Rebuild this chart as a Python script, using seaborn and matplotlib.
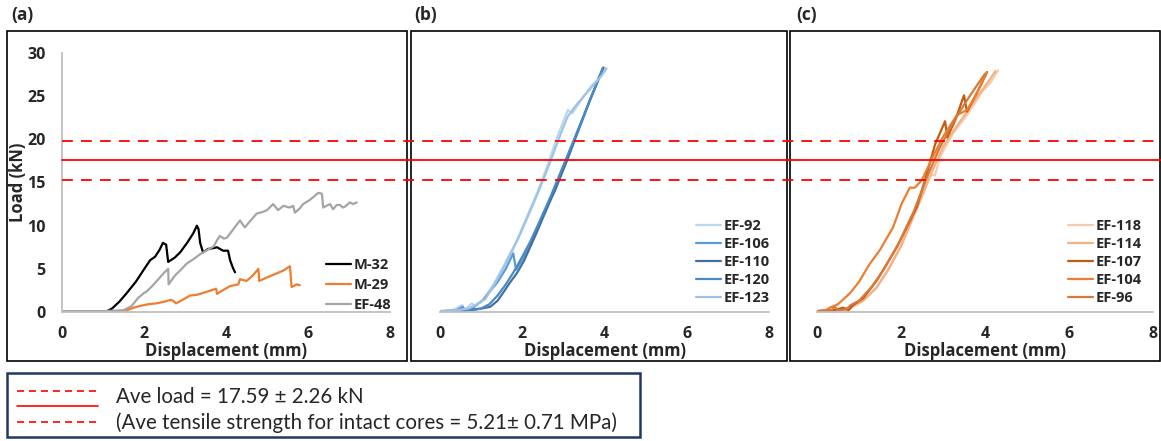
import pandas as pd
import matplotlib
matplotlib.use("Agg")
import matplotlib.pyplot as plt
import matplotlib.transforms as mtransforms
from matplotlib.lines import Line2D
from matplotlib.patches import Rectangle
import seaborn as sns

# ---- data (displacement mm, load kN) ----
m32_x = [0, 0.6, 1.1, 1.22, 1.4, 1.58, 1.8, 1.98, 2.15, 2.27, 2.38, 2.46, 2.54, 2.59, 2.75, 2.88,
         3.05, 3.2, 3.29, 3.33, 3.37, 3.44, 3.56, 3.7, 3.78, 3.93, 4.05, 4.1, 4.17, 4.22]
m32_y = [0.1, 0.1, 0.1, 0.4, 1.2, 2.2, 3.5, 4.8, 6.0, 6.4, 7.2, 8.0, 7.8, 5.8, 6.3, 6.9,
         8.0, 9.1, 10.0, 9.6, 8.0, 6.9, 7.3, 7.4, 7.5, 7.1, 7.1, 6.0, 5.1, 4.6]

m29_x = [0, 1.0, 1.4, 1.58, 1.75, 1.9, 2.1, 2.3, 2.5, 2.65, 2.71, 2.78, 2.9, 3.12, 3.3, 3.5,
         3.7, 3.76, 3.78, 3.95, 4.1, 4.2, 4.3, 4.34, 4.5, 4.65, 4.79, 4.81, 5.0, 5.2, 5.4,
         5.56, 5.6, 5.65, 5.72, 5.8]
m29_y = [0.1, 0.1, 0.1, 0.2, 0.5, 0.7, 0.9, 1.0, 1.2, 1.4, 1.3, 1.0, 1.3, 1.9, 2.0, 2.3,
         2.6, 2.7, 2.1, 2.6, 3.0, 3.1, 3.2, 3.8, 3.6, 4.2, 5.0, 3.6, 4.0, 4.4, 4.8,
         5.3, 2.9, 3.0, 3.2, 3.1]

ef48_x = [0, 1.0, 1.5, 1.7, 1.85, 2.0, 2.07, 2.2, 2.35, 2.5, 2.59, 2.6, 2.75, 2.9, 3.04, 3.2,
          3.37, 3.55, 3.7, 3.78, 3.85, 3.95, 4.02, 4.15, 4.34, 4.4, 4.46, 4.6, 4.75, 4.9, 5.0,
          5.15, 5.27, 5.4, 5.55, 5.64, 5.68, 5.8, 5.88, 6.05, 6.25, 6.34, 6.37, 6.45, 6.54,
          6.61, 6.7, 6.78, 6.85, 6.9, 7.02, 7.1, 7.19]
ef48_y = [0.1, 0.1, 0.2, 0.7, 1.6, 2.2, 2.4, 3.0, 3.8, 4.6, 5.0, 3.2, 4.2, 4.9, 5.6, 6.1,
          6.7, 7.2, 7.6, 8.3, 8.8, 8.5, 8.6, 9.4, 10.6, 10.2, 9.8, 10.6, 11.4, 11.6, 11.8,
          12.5, 11.8, 12.3, 12.1, 12.3, 11.5, 12.0, 12.5, 13.0, 13.8, 13.7, 12.1, 12.3, 12.5,
          11.9, 12.4, 12.4, 12.1, 12.2, 12.7, 12.5, 12.7]

ef92_x = [0, 0.3, 0.54, 0.6, 0.78, 0.85, 1.05, 1.3, 1.53, 1.87, 2.1, 2.36, 2.6, 2.85, 3.11,
          3.21, 3.33, 3.48, 3.7, 3.82, 4.01]
ef92_y = [0.1, 0.2, 0.8, 0.3, 1.0, 0.7, 1.4, 3.2, 5.2, 8.3, 10.9, 13.8, 16.8, 20.3, 23.4,
          23.0, 23.8, 24.9, 26.3, 26.8, 28.3]
ef123_x = [0, 0.4, 0.7, 0.9, 1.1, 1.35, 1.58, 1.9, 2.15, 2.4, 2.65, 2.9, 3.1, 3.3, 3.5, 3.75,
           3.9, 4.05]
ef123_y = [0.1, 0.2, 0.4, 0.9, 1.5, 3.4, 5.4, 8.5, 11.2, 14.0, 17.0, 20.2, 22.6, 23.9, 25.0,
           26.4, 27.2, 28.2]
ef106_x = [0, 0.4, 0.55, 0.6, 0.8, 1.05, 1.2, 1.39, 1.6, 1.78, 1.85, 2.0, 2.2, 2.5, 2.8, 3.1,
           3.35, 3.65, 3.97]
ef106_y = [0.1, 0.2, 0.6, 0.2, 0.5, 1.4, 2.3, 3.4, 5.0, 6.8, 4.9, 6.1, 7.7, 11.0, 14.3,
           17.7, 20.8, 24.6, 28.3]
ef110_x = [0, 0.5, 0.8, 1.0, 1.22, 1.4, 1.53, 1.7, 1.87, 2.05, 2.19, 2.35, 2.51, 2.72, 2.8,
           3.09, 3.33, 3.65, 3.97]
ef110_y = [0.1, 0.1, 0.3, 0.4, 0.6, 1.3, 2.2, 3.4, 4.5, 6.0, 7.5, 9.2, 11.0, 13.3, 14.1,
           17.6, 20.7, 24.6, 28.3]
ef120_x = [0, 0.5, 0.8, 1.0, 1.2, 1.4, 1.6, 1.8, 2.0, 2.2, 2.45, 2.7, 2.95, 3.2, 3.5, 3.8,
           3.95]
ef120_y = [0.1, 0.1, 0.2, 0.4, 0.9, 1.9, 3.2, 4.7, 6.4, 8.2, 10.8, 13.5, 16.4, 19.3, 22.8,
           26.3, 28.2]

ef118_x = [0, 0.5, 0.79, 1.1, 1.43, 1.7, 1.98, 2.2, 2.45, 2.64, 2.74, 2.81, 2.93, 3.24, 3.57,
           3.81, 3.93, 4.12, 4.31]
ef118_y = [0.1, 0.2, 0.6, 1.4, 2.9, 5.0, 7.5, 10.0, 13.0, 15.4, 15.9, 15.8, 18.0, 20.7, 22.8,
           24.6, 25.5, 26.5, 28.0]
ef114_x = [0, 0.5, 0.8, 1.1, 1.4, 1.7, 2.0, 2.25, 2.5, 2.75, 3.0, 3.25, 3.5, 3.75, 3.95,
           4.25]
ef114_y = [0.1, 0.2, 0.5, 1.3, 2.7, 4.9, 7.6, 10.5, 13.4, 16.4, 19.1, 21.0, 22.7, 24.5, 25.8,
           27.9]
ef107_x = [0, 0.4, 0.62, 0.75, 0.86, 1.1, 1.43, 1.9, 2.38, 2.62, 2.81, 3.05, 3.1, 3.29, 3.5,
           3.57, 3.81, 4.05]
ef107_y = [0.1, 0.2, 0.5, 0.2, 0.8, 1.6, 3.7, 7.5, 12.2, 16.1, 19.4, 22.1, 20.2, 22.2, 25.1,
           23.2, 25.4, 27.8]
ef104_x = [0, 0.2, 0.31, 0.5, 0.79, 1.0, 1.26, 1.5, 1.81, 2.02, 2.21, 2.33, 2.5, 2.76, 3.0,
           3.33, 3.57, 3.76, 4.05]
ef104_y = [0.1, 0.2, 0.5, 0.9, 2.2, 3.5, 5.6, 7.2, 9.8, 12.6, 14.4, 14.4, 15.3, 18.0, 20.3,
           22.8, 23.4, 24.9, 27.8]
ef96_x = [0, 0.35, 0.42, 0.5, 0.7, 0.8, 1.0, 1.3, 1.6, 1.95, 2.3, 2.6, 2.9, 3.2, 3.5, 3.8,
          4.0]
ef96_y = [0.1, 0.2, 0.6, 0.2, 0.3, 0.8, 1.3, 2.9, 5.0, 8.0, 11.6, 15.4, 18.8, 21.6, 24.0,
          26.2, 27.6]

ave_load = 17.59
sd_load = 2.26
panel_tags = ["(a)", "(b)", "(c)"]
x_ticks = [0, 2, 4, 6, 8]
y_ticks = [0, 5, 10, 15, 20, 25, 30]
legend_lines = ["Ave load = 17.59 \u00b1 2.26 kN",
                "(Ave tensile strength for intact cores = 5.21\u00b1 0.71 MPa)"]

panel_a = {"M-32": (m32_x, m32_y), "M-29": (m29_x, m29_y), "EF-48": (ef48_x, ef48_y)}
panel_b = {"EF-92": (ef92_x, ef92_y), "EF-106": (ef106_x, ef106_y),
           "EF-110": (ef110_x, ef110_y), "EF-120": (ef120_x, ef120_y),
           "EF-123": (ef123_x, ef123_y)}
panel_c = {"EF-118": (ef118_x, ef118_y), "EF-114": (ef114_x, ef114_y),
           "EF-107": (ef107_x, ef107_y), "EF-104": (ef104_x, ef104_y),
           "EF-96": (ef96_x, ef96_y)}

colors_a = {"M-32": "#000000", "M-29": "#ed7d31", "EF-48": "#a5a5a5"}
colors_b = {"EF-92": "#bdd7ee", "EF-106": "#5b9bd5", "EF-110": "#41719c",
            "EF-120": "#4a89c8", "EF-123": "#9dc3e6"}
colors_c = {"EF-118": "#f8cbad", "EF-114": "#f4b183", "EF-107": "#c55a11",
            "EF-104": "#ed7d31", "EF-96": "#d67a3a"}

W, H = 1161, 441
BOLD = ["Open Sans", "DejaVu Sans"]


def fig_rect(x0, y0, x1, y1):
    # pixel box (top-left origin) -> figure fraction [l, b, w, h]
    return [x0 / W, 1 - y1 / H, (x1 - x0) / W, (y1 - y0) / H]


def long_frame(curves):
    parts = []
    for name, (xs, ys) in curves.items():
        parts.append(pd.DataFrame({"disp": xs, "load": ys, "specimen": name}))
    return pd.concat(parts, ignore_index=True)


sns.set_style("white")
plt.rcParams["font.family"] = ["Lato", "DejaVu Sans"]

fig = plt.figure(figsize=(W / 100, H / 100), dpi=100)
ax_a = fig.add_axes(fig_rect(62, 53, 390, 312))
ax_b = fig.add_axes(fig_rect(440, 53, 769, 312))
ax_c = fig.add_axes(fig_rect(817, 53, 1153, 312))


def draw_panel(ax, curves, colors, anchor, spacing, show_y):
    df = long_frame(curves)
    sns.lineplot(data=df, x="disp", y="load", hue="specimen", hue_order=list(curves),
                 palette=colors, sort=False, estimator=None, lw=1.6, ax=ax)
    ax.set_xlim(0, 8)
    ax.set_ylim(0, 30)
    ax.set_xticks(x_ticks)
    ax.set_facecolor("none")
    for side in ["top", "right", "left"]:
        ax.spines[side].set_visible(False)
    ax.spines["bottom"].set_color("#bfbfbf")
    ax.spines["bottom"].set_linewidth(1.3)
    ax.tick_params(axis="x", length=0, pad=10)
    for t in ax.get_xticklabels():
        t.set_fontfamily(BOLD)
        t.set_fontweight("bold")
        t.set_fontsize(11.5)
    ax.set_xlabel("Displacement (mm)", fontsize=12, fontweight="bold", family=BOLD,
                  labelpad=0)
    if show_y:
        ax.spines["left"].set_visible(True)
        ax.spines["left"].set_color("#bfbfbf")
        ax.spines["left"].set_linewidth(1.3)
        ax.set_yticks(y_ticks)
        ax.tick_params(axis="y", length=0, pad=12)
        for t in ax.get_yticklabels():
            t.set_fontfamily(BOLD)
            t.set_fontweight("bold")
            t.set_fontsize(11.5)
        ax.set_ylabel("Load (kN)", fontsize=12, fontweight="bold", family=BOLD, labelpad=0)
    else:
        ax.set_yticks([])
        ax.set_ylabel("")
    handles, labels = ax.get_legend_handles_labels()
    ax.legend(handles, labels, loc="lower right", bbox_to_anchor=anchor, frameon=False,
              borderpad=0, handlelength=1.7, handletextpad=0.2, labelspacing=spacing,
              prop={"weight": "bold", "size": 10.5, "family": BOLD})


draw_panel(ax_a, panel_a, colors_a, (1.027, -0.028), 0.4, True)
draw_panel(ax_b, panel_b, colors_b, (1.024, 0.0), 0.27, False)
draw_panel(ax_c, panel_c, colors_c, (0.988, 0.0), 0.27, False)

# red average / +- sd lines running across all three panels
blend = mtransforms.blended_transform_factory(fig.transFigure, ax_a.transData)
for val, ls in [(ave_load + sd_load, (0, (6, 4.5))), (ave_load, "-"),
                (ave_load - sd_load, (0, (6, 4.5)))]:
    fig.add_artist(Line2D([62 / W, 1], [val, val], transform=blend, color="#ff0000",
                          lw=1.3, ls=ls, zorder=5))

# panel frames
for x0, x1 in [(7, 407), (411, 787), (790, 1160)]:
    fig.add_artist(Rectangle((x0 / W, 1 - 361 / H), (x1 - x0) / W, (361 - 31) / H,
                             transform=fig.transFigure, fill=False, ec="black", lw=1.2))

for tag, px in zip(panel_tags, [11, 414, 796]):
    fig.text(px / W, 1 - 15 / H, tag, fontsize=12.5, fontweight="bold", family=BOLD,
             va="center")

# bottom key box
fig.add_artist(Rectangle((7 / W, 1 - 437 / H), (640 - 7) / W, (437 - 373) / H,
                         transform=fig.transFigure, fill=False, ec="#1f3864", lw=1.8))
for py, ls in [(391, (0, (4.2, 3))), (406, "-"), (422, (0, (4.2, 3)))]:
    fig.add_artist(Line2D([17 / W, 98 / W], [1 - py / H, 1 - py / H],
                          transform=fig.transFigure, color="#ff0000", lw=1.2, ls=ls))
fig.text(116 / W, 1 - 397 / H, legend_lines[0], fontsize=14.8, va="center")
fig.text(116 / W, 1 - 423 / H, legend_lines[1], fontsize=14.8, va="center")

fig.savefig("out.png", dpi=100)
